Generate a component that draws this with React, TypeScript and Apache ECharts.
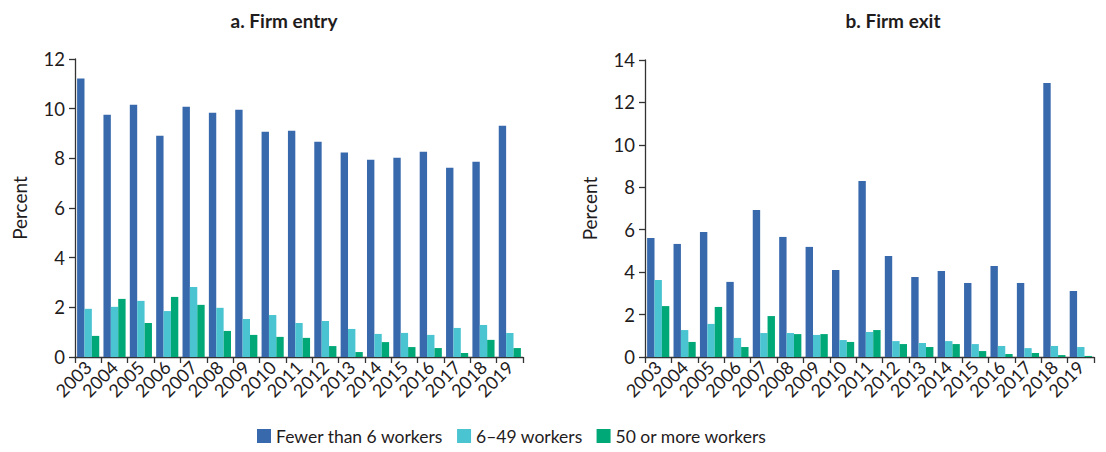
import React, { useEffect, useRef } from "react";
import * as echarts from "echarts";

const years = ["2003","2004","2005","2006","2007","2008","2009","2010","2011","2012","2013","2014","2015","2016","2017","2018","2019"];
const seriesNames = ["Fewer than 6 workers", "6–49 workers", "50 or more workers"];
const colors = ["#3869AC", "#4BC4D2", "#00A878"];

const entrySmall = [11.21, 9.76, 10.16, 8.91, 10.08, 9.84, 9.96, 9.07, 9.11, 8.67, 8.23, 7.94, 8.02, 8.27, 7.62, 7.86, 9.31];
const entryMid = [1.94, 2.02, 2.26, 1.85, 2.82, 1.98, 1.53, 1.69, 1.37, 1.45, 1.13, 0.93, 0.97, 0.89, 1.17, 1.29, 0.97];
const entryLarge = [0.85, 2.34, 1.37, 2.42, 2.10, 1.05, 0.89, 0.81, 0.77, 0.44, 0.20, 0.60, 0.40, 0.36, 0.16, 0.69, 0.36];

const exitSmall = [5.61, 5.33, 5.89, 3.54, 6.93, 5.66, 5.19, 4.10, 8.30, 4.76, 3.77, 4.05, 3.49, 4.29, 3.49, 12.92, 3.11];
const exitMid = [3.63, 1.27, 1.56, 0.90, 1.13, 1.13, 1.04, 0.80, 1.18, 0.75, 0.66, 0.75, 0.61, 0.52, 0.42, 0.52, 0.47];
const exitLarge = [2.40, 0.71, 2.36, 0.47, 1.93, 1.08, 1.08, 0.71, 1.27, 0.61, 0.47, 0.61, 0.28, 0.14, 0.19, 0.09, 0.05];

const yTicksEntry = { min: 0, max: 12, interval: 2 };
const yTicksExit = { min: 0, max: 14, interval: 2 };

const FONT = "Lato";
const TEXT = "#1f1c1d";

export default function App() {
  const ref = useRef<HTMLDivElement>(null);
  useEffect(() => {
    if (!ref.current) return;
    const chart = echarts.init(ref.current, null, { renderer: "svg" });
    const grids = [
      { left: 75, right: 583, top: 59, bottom: 95 },
      { left: 645, right: 12, top: 60, bottom: 95 },
    ];
    const xAxis = [0, 1].map((i) => ({
      type: "category",
      gridIndex: i,
      data: years,
      axisLine: { lineStyle: { color: "#333", width: 1.3 } },
      axisTick: { show: true, alignWithLabel: false, length: 6, lineStyle: { color: "#333", width: 1.3 } },
      axisLabel: { rotate: 45, fontSize: 18, color: TEXT, fontFamily: FONT, margin: 7, interval: 0 },
    }));
    const yRanges = [yTicksEntry, yTicksExit];
    const yAxis = [0, 1].map((i) => ({
      type: "value",
      gridIndex: i,
      min: yRanges[i].min,
      max: yRanges[i].max,
      interval: yRanges[i].interval,
      name: "Percent",
      nameLocation: "middle",
      nameGap: 46,
      nameTextStyle: { fontSize: 19, color: TEXT, fontFamily: FONT },
      axisLine: { show: true, lineStyle: { color: "#333", width: 1.3 } },
      axisTick: { show: true, length: 6, lineStyle: { color: "#333", width: 1.3 } },
      axisLabel: { fontSize: 18.5, color: TEXT, fontFamily: FONT, margin: 10 },
      splitLine: { show: false },
    }));
    const dataSets = [
      [entrySmall, entryMid, entryLarge],
      [exitSmall, exitMid, exitLarge],
    ];
    const series: any[] = [];
    dataSets.forEach((ds, gi) => {
      ds.forEach((d, si) => {
        series.push({
          type: "bar",
          name: seriesNames[si],
          xAxisIndex: gi,
          yAxisIndex: gi,
          data: d,
          barGap: "0%",
          barCategoryGap: "16%",
          itemStyle: { color: colors[si] },
        });
      });
    });
    chart.setOption({
      animation: false,
      textStyle: { fontFamily: FONT },
      title: [
        { text: "a. Firm entry", left: 279, top: 6, textAlign: "center", textStyle: { fontSize: 19, fontWeight: "bold", color: TEXT, fontFamily: FONT } },
        { text: "b. Firm exit", left: 888, top: 6, textAlign: "center", textStyle: { fontSize: 19, fontWeight: "bold", color: TEXT, fontFamily: FONT } },
      ],
      legend: {
        data: seriesNames,
        bottom: 2,
        left: 252,
        itemWidth: 14,
        itemHeight: 14,
        itemGap: 14,
        icon: "rect",
        textStyle: { fontSize: 17.5, color: TEXT, fontFamily: FONT },
      },
      grid: grids,
      xAxis,
      yAxis,
      series,
    });
    return () => chart.dispose();
  }, []);
  return <div ref={ref} style={{ width: 1106, height: 452, position: "absolute", left: 0, top: 0 }} />;
}
